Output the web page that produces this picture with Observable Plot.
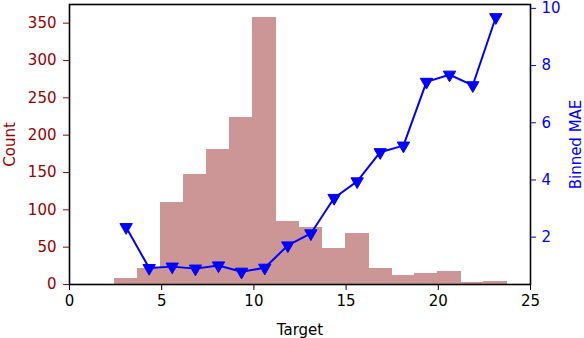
<!DOCTYPE html>
<html>
<head>
<meta charset="utf-8">
<script src="https://cdn.jsdelivr.net/npm/d3@7"></script>
<script src="https://cdn.jsdelivr.net/npm/@observablehq/plot@0.6"></script>
<style>
  html, body { margin: 0; padding: 0; background: #fff; }
  #chart { width: 584px; height: 338px; }
</style>
</head>
<body>
<div id="chart"></div>
<script>
// Histogram bin edges (Target) and counts
const binEdges = [2.44, 3.69, 4.95, 6.20, 7.45, 8.71, 9.96, 11.21, 12.47, 13.72, 14.97, 16.23, 17.48, 18.73, 19.99, 21.24, 22.49, 23.74];
const counts = [8, 22, 110, 147, 181, 223, 357, 84, 77, 48, 68, 22, 12, 15, 17, 3, 4];

// Binned MAE at bin centers
const binCenters = [3.07, 4.32, 5.57, 6.83, 8.08, 9.33, 10.59, 11.84, 13.09, 14.35, 15.60, 16.85, 18.11, 19.36, 20.61, 21.87, 23.12];
const mae = [2.35, 0.92, 0.97, 0.90, 1.01, 0.79, 0.93, 1.71, 2.13, 3.37, 3.95, 4.97, 5.20, 7.43, 7.68, 7.31, 9.69];

// Tick labels
const xTicks = [0, 5, 10, 15, 20, 25];
const countTicks = [0, 50, 100, 150, 200, 250, 300, 350];
const maeTicks = [2, 4, 6, 8, 10];

const countDomain = [0, 375];
const maeDomain = [0.345, 10.135];

const bars = counts.map((c, i) => ({x1: binEdges[i], x2: binEdges[i + 1], count: c}));
// map MAE into the count axis space (secondary axis)
const maeToY = d3.scaleLinear(maeDomain, countDomain);
const line = mae.map((m, i) => ({x: binCenters[i], y: maeToY(m)}));

const red = "#990000";
const blue = "#0000ff";
const font = "DejaVu Sans, sans-serif";

const plot = Plot.plot({
  width: 584,
  height: 338,
  marginLeft: 69,
  marginRight: 54,
  marginTop: 4,
  marginBottom: 54,
  style: {fontFamily: font, fontSize: "15px", background: "#fff", overflow: "visible"},
  x: {domain: [0, 25]},
  y: {domain: countDomain},
  marks: [
    Plot.rectY(bars, {x1: "x1", x2: "x2", y: "count", fill: "#cd9696", insetLeft: -0.3, insetRight: -0.3, shapeRendering: "crispEdges"}),
    Plot.line(line, {x: "x", y: "y", stroke: blue, strokeWidth: 2}),
    Plot.dot(line, {x: "x", y: "y", symbol: "triangle", r: 4.6, fill: blue, stroke: blue, strokeWidth: 1, rotate: 180}),
    Plot.frame({stroke: "#000", strokeWidth: 1.6}),
    Plot.axisX({ticks: xTicks, tickSize: 6, tickPadding: 5, tickFormat: d3.format("d"), color: "#000", fontSize: 15,
      label: "Target", labelAnchor: "center", labelArrow: "none", labelOffset: 50}),
    Plot.axisY({ticks: countTicks, anchor: "left", tickSize: 6, tickPadding: 7, tickFormat: d3.format("d"), color: red, fontSize: 15,
      label: "Count", labelAnchor: "center", labelArrow: "none", labelOffset: 65}),
    Plot.axisY({ticks: maeTicks.map(maeToY), anchor: "right", tickSize: 5, tickPadding: 6,
      tickFormat: d => d3.format("d")(Math.round(maeToY.invert(d))), color: blue, fontSize: 15,
      label: "Binned MAE", labelAnchor: "center", labelArrow: "none", labelOffset: 50})
  ]
});
document.getElementById("chart").appendChild(plot);
</script>
</body>
</html>
